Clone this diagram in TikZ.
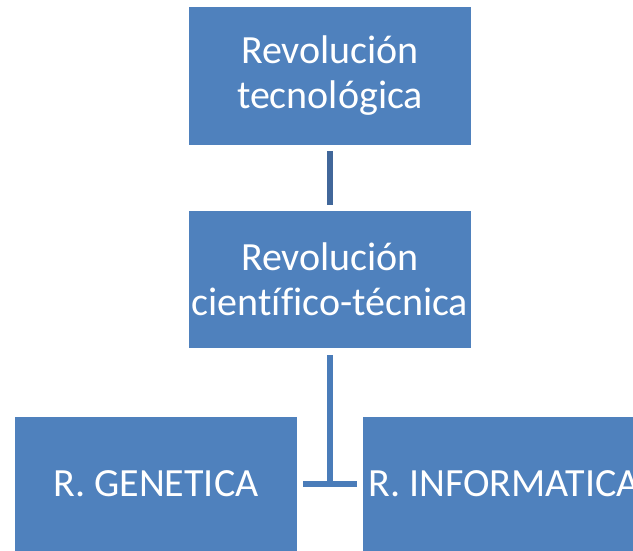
\documentclass[tikz,border=0pt]{standalone}
\usepackage{fontspec}
\setmainfont{Carlito}[Ligatures=CommonOff]
\usetikzlibrary{calc}
\begin{document}
\begin{tikzpicture}[x=1pt,y=-1pt,
  revbox/.style={fill=revblue,draw=none,minimum width=282pt,inner sep=0pt,
    text=white,align=center,font=\fontsize{40}{45}\selectfont},
  link/.style={line width=6pt}]
\definecolor{revblue}{HTML}{4F81BD}
\definecolor{linkdark}{HTML}{41679A}
\definecolor{linklight}{HTML}{4A7CB9}
\useasboundingbox (0,0) rectangle (633,550);
\clip (0,0) rectangle (633,550);

% Boxes
\node[revbox,minimum height=138pt] (tecno) at (330,76) {Revolución\\tecnológica};
\node[revbox,minimum height=137pt] (cient) at (330,279.5) {Revolución\\científico-técnica};
\node[revbox,minimum height=134pt] (genet) at (156,484) {R. GENETICA};
\node[revbox,minimum height=134pt] (infor) at (504,484) {R. INFORMATICA};

% Connectors
\draw[link,linkdark,shorten <=6pt,shorten >=6pt] (tecno.south) -- (cient.north);
\draw[link,linklight,shorten <=7pt] (cient.south) -- ($(cient.south |- genet.east)+(0,3)$);
\draw[link,linklight,shorten <=6pt,shorten >=6pt] (genet.east) -- (infor.west);

\end{tikzpicture}
\end{document}
